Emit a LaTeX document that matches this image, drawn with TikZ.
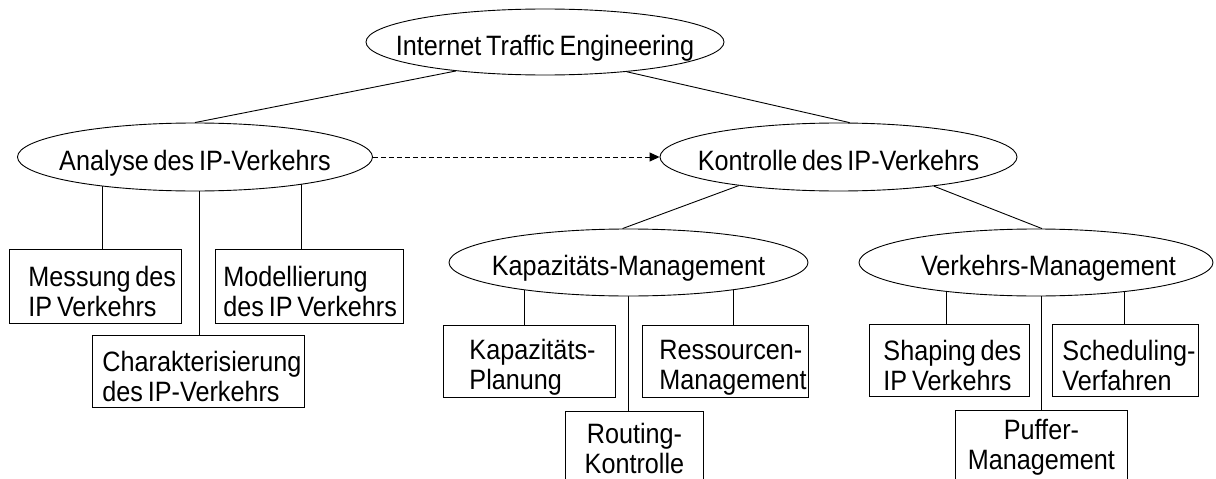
\documentclass[tikz,border=0pt]{standalone}
\usepackage{fontspec}
\setmainfont{Liberation Sans}[FakeStretch=0.9]
\usetikzlibrary{shapes.geometric,arrows.meta,backgrounds}
% label font: condensed sans with tight word spacing
\newcommand{\labelfont}{\fontsize{28}{30}\selectfont\setlength{\spaceskip}{4.8pt}}
% one unbreakable line of a box label, with the same tight word spacing
\newcommand{\boxline}[1]{\mbox{\setlength{\spaceskip}{4.8pt}#1}}
% strut that lowers the first line of a two-line box label
\newcommand{\firstline}{\rule{0pt}{31pt}}
% ellipse label: no width of its own, vertically centred on the capitals
\newcommand{\ovaltext}[1]{\makebox[0pt]{\smash{#1}\rule{0pt}{26pt}}}
\begin{document}
\begin{tikzpicture}[x=1pt,y=-1pt,line width=0.9pt,
  every node/.style={font=\labelfont},
  oval/.style={draw,ellipse,fill=white,inner sep=0pt},
  tbox/.style={draw,rectangle,fill=white,inner ysep=0pt,anchor=north west},
  lbox/.style={tbox,align=left},
  cbox/.style={tbox,align=center,inner xsep=0pt},
  link/.style={line width=0.9pt},
  relation/.style={link,dash pattern=on 5pt off 3pt,-{Triangle[length=10pt,width=9pt]}},
]
\useasboundingbox (0,0) rectangle (1216,479);
\clip (0,0) rectangle (1216,479);

% ---- ellipses ----
\node[oval,minimum width=358pt,minimum height=66pt] (ite) at (545,42)
  {\ovaltext{Internet Traffic Engineering}};
\node[oval,minimum width=355pt,minimum height=68pt] (ana) at (195,157)
  {\ovaltext{Analyse des IP-Verkehrs}};
\node[oval,minimum width=357pt,minimum height=68pt] (kon) at (838.5,157)
  {\ovaltext{Kontrolle des IP-Verkehrs}};
\node[oval,minimum width=359pt,minimum height=67pt] (kap) at (628.5,262.5)
  {\ovaltext{Kapazitäts-Management}};
\node[oval,minimum width=354pt,minimum height=67pt] (ver) at (1036,262.5)
  {\ovaltext{\hspace*{25pt}Verkehrs-Management}};

% ---- boxes under "Analyse" ----
\node[lbox,minimum height=74pt,inner xsep=19pt,text width=134pt] (mes) at (9,249)
  {\firstline\boxline{Messung des}\\\boxline{IP Verkehrs}};
\node[lbox,minimum height=74pt,inner xsep=8pt,text width=172pt] (mod) at (215,249)
  {\firstline\boxline{Modellierung}\\\boxline{des IP Verkehrs}};
\node[lbox,minimum height=72pt,inner xsep=10pt,text width=192pt] (cha) at (92,335)
  {\firstline\boxline{Charakterisierung}\\\boxline{des IP-Verkehrs}};

% ---- boxes under "Kapazitäts-Management" ----
\node[lbox,minimum height=72pt,inner xsep=26pt,text width=120pt] (kpl) at (443,325)
  {\firstline\boxline{Kapazitäts-}\\\boxline{Planung}};
\node[lbox,minimum height=72pt,inner xsep=17pt,text width=132pt] (res) at (642,325)
  {\firstline\boxline{Ressourcen-}\\\boxline{Management}};
\node[cbox,minimum width=138pt,minimum height=74pt] (rou) at (565,411)
  {Routing-\\Kontrolle};

% ---- boxes under "Verkehrs-Management" ----
\node[lbox,minimum height=72pt,inner xsep=14pt,text width=132pt] (sha) at (869,324)
  {\firstline\boxline{Shaping des}\\\boxline{IP Verkehrs}};
\node[lbox,minimum height=72pt,inner xsep=10pt,text width=126pt] (sch) at (1052,324)
  {\firstline\boxline{Scheduling-}\\\boxline{Verfahren}};
\node[cbox,minimum width=172pt,minimum height=74pt] (puf) at (955,410)
  {Puffer-\\Management};

% attachment points of the vertical drops
\coordinate (mesT) at ([xshift=7pt]mes.north);
\coordinate (chaT) at ([xshift=1pt]cha.north);
\coordinate (modT) at ([xshift=-8pt]mod.north);
\coordinate (kplT) at ([xshift=-5pt]kpl.north);
\coordinate (rouT) at ([xshift=-6pt]rou.north);
\coordinate (resT) at ([xshift=8pt]res.north);
\coordinate (shaT) at ([xshift=-3pt]sha.north);
\coordinate (pufT) at (puf.north);
\coordinate (schT) at ([xshift=-1pt]sch.north);

% ---- tree connectors ----
\begin{scope}[on background layer]
  \draw[link] (ite.198) -- (ana.north);
  \draw[link] (ite.340) -- (kon.72);
  \draw[link] (kon.196) -- (kap.100);
  \draw[link] (kon.343) -- (ver.80);
  \draw[link] (mesT) -- (mesT |- ana.center);
  \draw[link] (chaT) -- (chaT |- ana.center);
  \draw[link] (modT) -- (modT |- ana.center);
  \draw[link] (kplT) -- (kplT |- kap.center);
  \draw[link] (rouT) -- (rouT |- kap.center);
  \draw[link] (resT) -- (resT |- kap.center);
  \draw[link] (shaT) -- (shaT |- ver.center);
  \draw[link] (pufT) -- (pufT |- ver.center);
  \draw[link] (schT) -- (schT |- ver.center);
\end{scope}

% ---- analysis feeds control ----
\draw[relation] (ana.east) -- (kon.west);
\end{tikzpicture}
\end{document}
